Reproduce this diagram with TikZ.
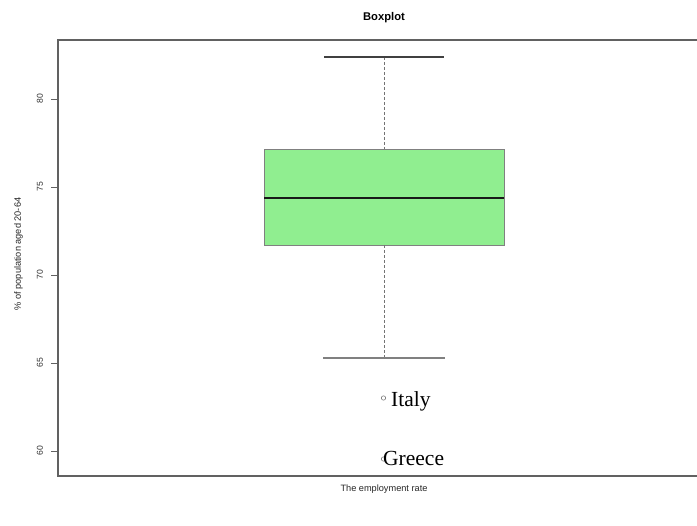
\documentclass[tikz,border=0pt]{standalone}
\usepackage{fontspec}
\setsansfont{Liberation Sans}
\newfontfamily\labelserif{Liberation Serif}
\begin{document}
\begin{tikzpicture}[x=1pt,y=-1pt,
  frame/.style={draw=black!62, line width=1.3pt},
  axtick/.style={draw=black!62, line width=0.8pt},
  ticklabel/.style={font=\sffamily\fontsize{8.6}{9}\selectfont, text=black!80, rotate=90},
  axlabel/.style={font=\sffamily\fontsize{9.2}{10}\selectfont, text=black!85},
  whisker/.style={draw=black!55, dash pattern=on 3pt off 2pt, line width=0.7pt},
  capline/.style={draw=black!75, line width=1.1pt},
  outlier/.style={draw=black!60, line width=0.5pt},
  country/.style={font=\labelserif\fontsize{21.5}{22}\selectfont, anchor=base west, inner sep=0pt}]
\useasboundingbox (0,0) rectangle (697,526);

% value-to-pixel helper: 60 -> 451, 5 units -> 88
\def\yv#1{451-(#1-60)*17.6}

% plot frame (right side runs off the page)
\draw[frame] (700,40) -- (58,40) -- (58,476) -- (700,476);

% y axis ticks and labels
\foreach \v in {60,65,70,75,80}{
  \coordinate (t\v) at (58,{\yv{\v}});
  \draw[axtick] (t\v) -- ++(-7,0);
  \node[ticklabel] (l\v) at (40,{\yv{\v}}) {\v};
}

% box with median
\coordinate (boxtl) at (264,149);
\coordinate (boxbr) at (504,245);
\filldraw[fill={rgb,255:red,144;green,238;blue,144}, draw=black!50, line width=0.8pt] (boxtl) rectangle (boxbr);
\coordinate (medl) at (264,198);
\coordinate (medr) at (504,198);
\draw[black!90, line width=2.2pt] (medl) -- (medr);

% whiskers and caps
\coordinate (capt) at (384,57);
\coordinate (boxt) at (384,149);
\coordinate (boxb) at (384,245);
\coordinate (capb) at (384,358);
\draw[whisker] (capt) -- (boxt);
\draw[whisker] (boxb) -- (capb);
\draw[capline] ([xshift=-60pt]capt) -- ([xshift=60pt]capt);
\draw[capline, draw=black!50] ([xshift=-61pt]capb) -- ([xshift=61pt]capb);

% outliers
\draw[outlier] (383.5,398) circle (2.2);
\node[country] (italy) at (391,406.5) {Italy};
\draw[outlier] (383.5,459) circle (2.2);
\node[country] (greece) at (383,466) {Greece};

% titles
\node[font=\sffamily\bfseries\fontsize{11.2}{12}\selectfont] (title) at (384,18) {Boxplot};
\node[axlabel] (xlab) at (384,489) {The employment rate};
\node[axlabel, rotate=90] (ylab) at (18.5,254) {\% of population aged 20-64};
\end{tikzpicture}
\end{document}
